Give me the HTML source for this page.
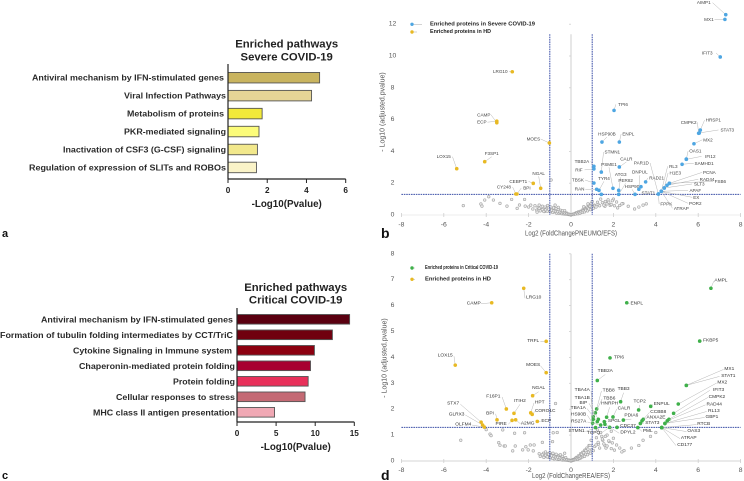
<!DOCTYPE html>
<html lang="en">
<head>
<meta charset="utf-8">
<title>Enriched pathways and volcano plots</title>
<style>
html,body{margin:0;padding:0;background:#fff;width:744px;height:481px;overflow:hidden}
svg{display:block;font-family:"Liberation Sans",sans-serif;filter:blur(0.3px)}
</style>
</head>
<body>
<svg id="fig" xmlns="http://www.w3.org/2000/svg" width="744" height="481" viewBox="0 0 744 481"></svg>
<script>
/* ---------- bar chart data ---------- */
const severePathways = ["Antiviral mechanism by IFN-stimulated genes","Viral Infection Pathways","Metabolism of proteins","PKR-mediated signaling","Inactivation of CSF3 (G-CSF) signaling","Regulation of expression of SLITs and ROBOs"];
const severeValues = [4.67,4.26,1.74,1.58,1.5,1.45];
const severeTicks = [0,2,4,6];
const criticalPathways = ["Antiviral mechanism by IFN-stimulated genes","Formation of tubulin folding intermediates by CCT/TriC","Cytokine Signaling in Immune system","Chaperonin-mediated protein folding","Protein folding","Cellular responses to stress","MHC class II antigen presentation"];
const criticalValues = [14.4,12.2,9.9,9.4,9.1,8.7,4.8];
const criticalTicks = [0,5,10,15];

/* ---------- volcano b data ---------- */
const bBlueNames = ["AIMP1","MX1","IFIT3","TPI6","HSP90B","ENPL","HRSP1","CMPK2","STAT3","MX2","OAS1","IFI12","SAMHD1","TBB2A","RIF","TBSK","RAN","STMN1","TYR4","PSME1","CALR","ATG3","PER82","HSP90","DNPUL","RAD21","PAR1D","RL3","H1E3","PCNA","RAD44","FSB6","SLT3","APAF","EX","POR2","FPPK","ATRAP","STAT1","",""];
const bBlueX = [7.3,7.26,7.04,2.03,1.46,2.28,6.1,6.02,6.05,5.8,5.44,5.44,5.24,1.08,1.08,1.08,1.21,1.43,1.32,1.98,2.28,2.25,2.25,3.02,3.2,3.52,4.12,4.26,4.4,4.64,4.53,4.64,4.4,4.26,4.26,4.26,4.12,4.26,4.12,3.3,1.43];
const bBlueY = [12.6,12.3,9.94,6.58,4.59,4.59,5.34,5.14,5.16,4.48,3.52,3.5,3.19,3.06,2.9,2.01,1.62,2.7,1.55,1.68,3.02,1.55,1.3,1.3,1.62,2.08,1.32,1.49,1.7,1.99,1.87,1.99,1.7,1.49,1.49,1.49,1.32,1.49,1.32,1.78,1.3];
const bYellowNames = ["LRG10","CAMP","ECP","MOES","F3SP1","LOX15","CEBPT1","NGAL","CY248","BPI"];
const bYellowX = [-2.77,-3.5,-3.5,-1.02,-4.07,-5.39,-1.78,-1.43,-2.6,-2.55];
const bYellowY = [9.01,5.8,5.9,4.53,3.35,2.91,1.99,1.68,1.32,1.32];
const bGrayX = [-5.08,-4.25,-4.2,-4.07,-3.88,-3.66,-3.35,-3.02,-2.8,-2.54,-2.43,-2.19,-2.16,-0.94,-2.0,-1.9,-1.8,-1.7,-1.62,-1.55,-1.5,-1.42,-1.35,-1.3,-1.22,-1.15,-1.1,-1.02,-0.95,-0.9,-0.82,-0.78,-0.7,-0.65,-0.6,-0.55,-0.5,-0.45,-0.4,-0.35,-0.3,-0.25,-0.2,-0.15,-0.1,-0.05,0,0.05,0.1,0.15,0.2,0.25,0.3,0.35,0.4,0.45,0.5,0.55,0.6,0.65,0.7,0.75,0.8,0.85,0.9,0.95,1.0,1.1,1.25,1.4,1.6,1.75,1.85,2.0,2.2,2.45,2.7,3.0,3.2,3.4,3.55,-0.6,-0.3,-0.75,0.6,0.8,-1.25,-1.6];
const bGrayY = [0.59,0.69,0.56,0.94,1.15,0.94,0.73,0.56,0.98,0.42,0.63,0.98,0.56,2.2,0.5,0.62,0.38,0.58,0.3,0.48,0.62,0.35,0.55,0.3,0.5,0.4,0.6,0.3,0.5,0.28,0.45,0.2,0.4,0.22,0.34,0.16,0.3,0.12,0.26,0.1,0.18,0.07,0.12,0.05,0.04,0.02,0.01,0.03,0.05,0.06,0.1,0.14,0.12,0.2,0.16,0.24,0.22,0.32,0.3,0.4,0.36,0.5,0.44,0.6,0.55,0.72,0.85,0.62,0.8,1.0,0.55,0.95,0.6,1.0,0.45,0.72,0.55,0.38,0.5,0.62,0.7,0.48,0.28,0.62,0.52,0.7,0.22,0.18];
const denseGrayX = [-1.5,-1.45,-1.35,-1.28,-1.2,-1.12,-1.05,-0.98,-0.92,-0.86,-0.8,-0.72,-0.68,-0.62,-0.56,-0.52,-0.46,-0.42,-0.36,-0.32,-0.28,-0.22,-0.18,-0.12,-0.08,-0.03,0.02,0.07,0.12,0.17,0.22,0.28,0.33,0.38,0.43,0.48,0.54,0.58,0.64,0.7,0.78,0.84,0.92,0.98,1.05,1.12,1.18,1.28,1.35,1.48,1.55,1.62,1.7,1.78,1.9,1.95,2.05,2.15,2.3,2.4];
const bDenseGrayY = [.42,.26,.34,.22,.32,.24,.36,.2,.3,.16,.26,.22,.12,.2,.1,.18,.14,.08,.12,.06,.1,.05,.08,.03,.05,.02,.02,.04,.03,.08,.06,.12,.08,.15,.12,.2,.16,.26,.2,.3,.26,.38,.34,.46,.42,.56,.5,.66,.58,.78,.62,.85,.7,.8,.66,.9,.58,.82,.6,.7];

/* ---------- volcano d data ---------- */
const dGreenNames = ["AMPL","ENPL","FKBP5","TPI6","TBB2A","MX1","STAT1","MX2","IFIT3","CMPK2","RAD44","RL13","GBP1","RTCB","OAS3","ATRAP","CD177","ENPUL","TCP2","CCBB8","ANXA2E","STAT3","PML","PDIA6","TBB3","CALR","HNRPH","TBB8","TBB6","TBA4A","TBA1B","BIP","TBA1A","HS90B","RS27A","STMN1","TCPQ","SPGL","CDC37","DPYL2"];
const dGreenX = [6.6,2.63,6.07,1.84,1.24,5.44,5.44,5.06,4.84,4.62,4.54,4.43,4.43,4.28,4.28,4.28,4.28,3.76,3.19,3.41,3.35,3.27,3.15,2.47,2.34,1.98,1.68,1.21,1.15,1.05,1.05,1.29,1.24,1.02,1.4,1.16,1.82,1.57,2.17,1.6];
const dGreenY = [6.67,6.11,4.63,3.98,3.11,2.92,2.92,2.2,1.84,1.61,1.55,1.45,1.45,1.29,1.29,1.29,1.29,2.11,1.97,1.61,1.55,1.45,1.29,1.58,2.29,1.7,1.69,2.01,1.86,1.71,1.61,1.61,1.52,1.46,1.39,1.29,1.3,1.52,1.3,1.42];
const dYellowNames = ["LRG10","CAMP","TRFL","LOX15","MOES","NGAL","F16P1","ITIH2","HPT","CORO1C","ECP","BPI","PIRE","A2MG","STX7","GLRX3","OLFM4"];
const dYellowX = [-2.23,-3.74,-1.17,-5.46,-1.17,-1.81,-3.05,-2.69,-1.9,-1.83,-1.59,-3.49,-2.78,-2.61,-4.24,-4.17,-4.09];
const dYellowY = [6.67,6.11,4.62,3.7,3.41,2.52,2.01,1.84,1.86,1.8,1.53,1.59,1.57,1.59,1.5,1.39,1.31];
const dGrayX = [-5.2,-4.0,-3.82,-3.77,-3.41,-3.35,-3.22,-3.15,-3.1,-2.75,-2.66,-2.63,-2.28,-2.19,-2.13,-2.02,-1.92,-1.78,-1.74,-1.35,-0.87,-0.84,-0.73,-0.65,-1.3,-1.25,-1.2,-1.15,-1.1,-1.05,-1.0,-0.95,-0.9,-0.85,-0.8,-0.75,-0.7,-0.65,-0.6,-0.55,-0.5,-0.45,-0.4,-0.35,-0.3,-0.25,-0.2,-0.15,-0.1,-0.05,0,0.05,0.1,0.15,0.2,0.25,0.3,0.35,0.4,0.45,0.5,0.55,0.6,0.65,0.7,0.75,0.8,0.85,0.9,0.95,1.2,1.3,1.4,1.5,1.6,1.7,1.8,1.9,2.0,1.25,1.45,1.65,2.5,2.85,3.2,3.4,3.75,4.0,-0.9,-0.7,-0.5,-0.3,-0.8,-0.6,-0.4,-1.0];
const dGrayY = [0.8,1.21,1.04,0.98,0.71,0.61,1.2,0.58,0.58,0.39,1.07,0.58,0.43,1.09,0.55,0.43,0.62,0.39,0.62,0.72,0.75,1.09,2.22,1.1,0.3,0.22,0.35,0.18,0.28,0.14,0.32,0.24,0.12,0.3,0.2,0.1,0.26,0.16,0.08,0.22,0.14,0.07,0.18,0.1,0.05,0.13,0.06,0.03,0.04,0.02,0.01,0.04,0.06,0.05,0.1,0.14,0.12,0.2,0.18,0.28,0.26,0.34,0.32,0.42,0.4,0.5,0.46,0.6,0.6,0.8,0.9,0.65,1.1,0.8,0.6,1.0,0.75,1.15,0.88,1.2,0.95,0.5,0.4,0.5,0.6,0.8,0.95,1.1,0.18,0.12,0.24,0.3,0.08,0.06,0.04,0.2];
const dDenseGrayY = [.28,.18,.24,.14,.22,.16,.26,.12,.2,.1,.18,.14,.08,.14,.07,.12,.09,.05,.08,.04,.06,.03,.05,.02,.03,.01,.01,.02,.03,.05,.06,.08,.07,.1,.1,.14,.16,.2,.18,.26,.24,.34,.3,.44,.4,.56,.62,.72,.5,.85,.66,.95,.58,.78,.48,.7,.42,.62,.5,.35];
const volcanoXTicks = [-8,-6,-4,-2,0,2,4,6,8];
const bYTicks = [0,2,4,6,8,10,12];
const dYTicks = [0,1,2,3,4,5,6,7,8];

/* ---------- layout only: label nudges (px) relative to each point, and bar fills ---------- */
const bBlueNudge = [[-22,-12],[-16,0],[-13,-4],[9,-6],[5,-8],[9,-8],[13,-10],[-10,-11],[28,-3],[14,-4],[9,-8],[24,-3],[22,-1],[-12,-5],[-15,1],[-16,-3],[-17,0],[11,-20],[5,-12],[-4,-24],[7,-8],[2,-16],[7,-14],[-3,-8],[1,-17],[11,-4],[-17,-31],[12,-25],[11,-15],[40,-11],[40,-6],[51,-2],[35,-4],[34,-1],[35,6],[34,12],[8,10],[20,17],[-10,-1],[0,0],[0,0]];
const bYellowNudge = [[-12,0],[-13,-8],[-15,1],[-16,-4],[7,-8],[-13,-12],[-15,-2],[-2,-15],[-12,-7],[10,-6]];
const dGreenNudge = [[10,-7],[10,1],[11,0],[9,0],[8,-9],[43,-16],[42,-9],[44,-21],[45,-23],[48,-22],[47,-16],[49,-12],[47,-6],[42,-3],[32,4],[27,11],[23,18],[11,-2],[1,-8],[15,-7],[14,-3],[12,0],[10,4],[8,-4],[3,-12],[11,-8],[3,-13],[12,-18],[14,-14],[-11,-26],[-11,-21],[-15,-16],[-19,-13],[-14,-8],[-22,-3],[-19,4],[-16,6],[10,0],[11,-1],[23,9]];
const dYellowNudge = [[10,10],[-18,1],[-13,0],[-10,-9],[-13,-7],[6,-7],[-13,-12],[6,-12],[9,-10],[13,-3],[9,0],[-7,-6],[-11,4],[12,4],[-28,-18],[-26,-10],[-21,-2]];
const severeFills = ["#c9b45f","#e6d596","#f2e93a","#fcfc7a","#f2e88c","#faf3c8"];
const criticalFills = ["#5a0010","#70000f","#8c0010","#a80030","#e8305a","#c46a74","#f0a8b4"];

const svg = document.getElementById('fig');
const NS = 'http://www.w3.org/2000/svg';

function add(tag, attrs, name, text) {
  const el = document.createElementNS(NS, tag);
  for (const k in attrs) el.setAttribute(k, attrs[k]);
  
  
  if (text !== undefined) el.textContent = text;
  svg.appendChild(el);
  return el;
}
function txt(x, y, s, size, opt, name) {
  const a = {x: x, y: y, 'font-size': size, 'dominant-baseline': 'central', fill: '#222'};
  Object.assign(a, opt || {});
  return add('text', a, name, s);
}

/* ---------- bar charts ---------- */
function barChart(c) {
  const x = v => c.x0 + (v - c.ticks[0]) / (c.ticks[c.ticks.length - 1] - c.ticks[0]) * (c.x1 - c.x0);
  const y = i => c.yFirst + i * c.yStep;
  c.names.forEach((n, i) => {
    add('rect', {x: c.x0, y: y(i) - c.h / 2, width: x(c.vals[i]) - c.x0, height: c.h, fill: c.fills[i], stroke: '#555', 'stroke-width': 0.9}, c.id + '-bar-' + i);
    txt(c.labelX[i] !== undefined ? c.labelX[i] : c.x0 - 3, y(i), n, c.labelSize, {'text-anchor': 'end', 'font-weight': 'bold', fill: '#2a2a2a', textLength: c.labelW[i], lengthAdjust: 'spacingAndGlyphs'}, c.id + '-category-label');
  });
  add('line', {x1: c.x0, x2: c.x0, y1: c.yTop, y2: c.yBot, stroke: '#222', 'stroke-width': 1.2}, c.id + '-y-axis');
  add('line', {x1: c.x0, x2: c.x1, y1: c.yBot, y2: c.yBot, stroke: '#222', 'stroke-width': 1.2}, c.id + '-x-axis');
  c.ticks.forEach(t => {
    add('line', {x1: x(t), x2: x(t), y1: c.yBot, y2: c.yBot + 4, stroke: '#222', 'stroke-width': 1}, c.id + '-x-tick');
    txt(x(t), c.yBot + 11.5, t, 8.2, {'text-anchor': 'middle', 'font-weight': 'bold'}, c.id + '-x-tick-label');
  });
  txt(c.cx, c.titleY, 'Enriched pathways', 11.3, {'text-anchor': 'middle', 'font-weight': 'bold'}, c.id + '-title-line-1');
  txt(c.cx, c.titleY + 12.7, c.title2, 11.3, {'text-anchor': 'middle', 'font-weight': 'bold'}, c.id + '-title-line-2');
  txt(c.cx, c.xTitleY, '-Log10(Pvalue)', 9.8, {'text-anchor': 'middle', 'font-weight': 'bold'}, c.id + '-x-axis-title');
}
barChart({id: 'severe', names: severePathways, vals: severeValues, fills: severeFills, ticks: severeTicks,
  x0: 228, x1: 345.7, yFirst: 77.7, yStep: 17.95, h: 10.5, yTop: 64, yBot: 179, labelSize: 8.6,
  labelX: [224, 226, 224, 226, 226, 226], labelW: [192, 102, 97, 102, 163, 197],
  cx: 286.7, titleY: 44.7, title2: 'Severe COVID-19', xTitleY: 204.7});
barChart({id: 'critical', names: criticalPathways, vals: criticalValues, fills: criticalFills, ticks: criticalTicks,
  x0: 237, x1: 354.3, yFirst: 319.3, yStep: 15.5, h: 9.6, yTop: 308, yBot: 422, labelSize: 8.6,
  labelX: [233, 233, 232, 235, 235, 235, 235], labelW: [192, 233, 159, 156, 62, 119, 142],
  cx: 295.7, titleY: 288, title2: 'Critical COVID-19', xTitleY: 447.7});

/* ---------- volcano plots ---------- */
function volcano(c) {
  const x = v => c.xZero + v * 21.2;
  const y = v => c.yZero - v * c.yScale;
  const top = y(c.yTicks[c.yTicks.length - 1]) - c.topPad;
  add('line', {x1: x(0), x2: x(0), y1: top, y2: c.yZero, stroke: '#cfcfcf', 'stroke-width': 1}, c.id + '-y-axis');
  add('line', {x1: x(-8), x2: x(8), y1: c.yZero, y2: c.yZero, stroke: c.axisColor, 'stroke-width': 1}, c.id + '-x-axis');
  volcanoXTicks.forEach(t => {
    add('line', {x1: x(t), x2: x(t), y1: c.yZero - 2, y2: c.yZero + 2, stroke: '#cfcfcf', 'stroke-width': 0.8}, c.id + '-x-tick');
    txt(x(t), c.xTickY, t, 6.8, {'text-anchor': 'middle', fill: '#555'}, c.id + '-x-tick-label');
  });
  c.yTicks.forEach(t => {
    add('line', {x1: x(0) - 2, x2: x(0), y1: y(t), y2: y(t), stroke: '#cfcfcf', 'stroke-width': 0.8}, c.id + '-y-tick');
    txt(392.5, y(t), t, 6.8, {'text-anchor': 'middle', fill: '#555'}, c.id + '-y-tick-label');
  });
  c.grayX.forEach((v, i) => {
    add('circle', {cx: x(v), cy: y(c.grayY[i]), r: 1.3, fill: '#eee', stroke: '#a4a4a4', 'stroke-width': 0.6}, c.id + '-nonsignificant-point');
  });
  const dash = {stroke: '#3c50a8', 'stroke-width': 1, 'stroke-dasharray': '1.6 0.8'};
  add('line', Object.assign({x1: x(-1), x2: x(-1), y1: top, y2: c.yZero}, dash), c.id + '-threshold-left');
  add('line', Object.assign({x1: x(1), x2: x(1), y1: top, y2: c.yZero}, dash), c.id + '-threshold-right');
  add('line', Object.assign({x1: x(-8), x2: x(8), y1: y(c.sig), y2: y(c.sig)}, dash), c.id + '-threshold-pvalue');
  c.series.forEach(s => {
    s.names.forEach((n, i) => {
      const px = x(s.xs[i]), py = y(s.ys[i]);
      if (n) {
        const d = s.nudge[i], lx = px + d[0], ly = py + d[1];
        const hw = n.length * 1.55;
        let ex = lx, ey = ly;
        if (Math.abs(d[0]) > hw + 1) ex = lx - Math.sign(d[0]) * (hw + 1);
        else ey = ly - Math.sign(d[1] || 1) * 3;
        add('line', {x1: px, y1: py, x2: ex, y2: ey, stroke: '#b5b5b5', 'stroke-width': 0.5}, c.id + '-leader-line');
        txt(lx, ly, n, c.labelSize, {'text-anchor': 'middle', fill: c.labelColor}, c.id + '-protein-label');
      }
      add('circle', {cx: px, cy: py, r: 1.8, fill: s.color}, c.id + '-' + s.key + '-point');
    });
  });
  /* legend */
  c.legend.forEach(l => {
    add('line', {x1: 412, x2: l.lineEnd, y1: l.y, y2: l.y, stroke: '#b5b5b5', 'stroke-width': 0.6}, c.id + '-legend-line');
    add('circle', {cx: 412, cy: l.y, r: 1.7, fill: l.color}, c.id + '-legend-marker');
    txt(c.legendX, l.y, l.text, 5.4, {'font-weight': 'bold', fill: '#222', textLength: l.w, lengthAdjust: 'spacingAndGlyphs'}, c.id + '-legend-entry');
  });
  txt(c.xTitleX, c.xTitleY, c.xTitle, 7, {fill: '#555', textLength: c.xTitleW, lengthAdjust: 'spacingAndGlyphs'}, c.id + '-x-axis-title');
  txt(0, 0, '- Log10 (adjusted.pvalue)', 7, {fill: '#555', 'text-anchor': 'middle', transform: 'translate(' + c.yTitleX + ' ' + c.yTitleY + ') rotate(-90)'}, c.id + '-y-axis-title');
}
volcano({id: 'volcano-b', xZero: 571, yZero: 215, yScale: 15.9, yTicks: bYTicks, topPad: -10, axisColor: '#ececec', sig: 1.3, xTickY: 225,
  grayX: bGrayX.concat(denseGrayX), grayY: bGrayY.concat(bDenseGrayY), labelSize: 4.6, labelColor: '#444',
  series: [
    {key: 'blue', names: bBlueNames, xs: bBlueX, ys: bBlueY, nudge: bBlueNudge, color: '#4ea6e2'},
    {key: 'yellow', names: bYellowNames, xs: bYellowX, ys: bYellowY, nudge: bYellowNudge, color: '#e8b923'}
  ],
  legendX: 430,
  legend: [
    {y: 24.3, lineEnd: 422, color: '#4ea6e2', text: 'Enriched proteins in Severe COVID-19', w: 105},
    {y: 32, lineEnd: 417, color: '#e8b923', text: 'Enriched proteins in HD', w: 61}
  ],
  xTitle: 'Log2 (FoldChangePNEUMO/EFS)', xTitleX: 525, xTitleY: 234, xTitleW: 92, yTitleX: 383, yTitleY: 112});
volcano({id: 'volcano-d', xZero: 571, yZero: 461, yScale: 25.9, yTicks: dYTicks, topPad: 0, axisColor: '#d5d5d5', sig: 1.3, xTickY: 470.7,
  grayX: dGrayX.concat(denseGrayX), grayY: dGrayY.concat(dDenseGrayY), labelSize: 4.8, labelColor: '#333',
  series: [
    {key: 'green', names: dGreenNames, xs: dGreenX, ys: dGreenY, nudge: dGreenNudge, color: '#3fb04a'},
    {key: 'yellow', names: dYellowNames, xs: dYellowX, ys: dYellowY, nudge: dYellowNudge, color: '#e8b923'}
  ],
  legendX: 425,
  legend: [
    {y: 268, lineEnd: 415, color: '#3fb04a', text: 'Enriched proteins in Critical COVID-19', w: 73},
    {y: 279.3, lineEnd: 415, color: '#e8b923', text: 'Enriched proteins in HD', w: 66}
  ],
  xTitle: 'Log2 (FoldChangeREA/EFS)', xTitleX: 532, xTitleY: 476.5, xTitleW: 78, yTitleX: 385, yTitleY: 358});

/* ---------- panel letters ---------- */
txt(2, 234, 'a', 11, {'font-weight': 'bold', fill: '#111'}, 'panel-label-a');
txt(2, 476, 'c', 11, {'font-weight': 'bold', fill: '#111'}, 'panel-label-c');
txt(381, 233, 'b', 14, {'font-weight': 'bold', fill: '#111'}, 'panel-label-b');
txt(381, 475, 'd', 14, {'font-weight': 'bold', fill: '#111'}, 'panel-label-d');
</script>
</body>
</html>
